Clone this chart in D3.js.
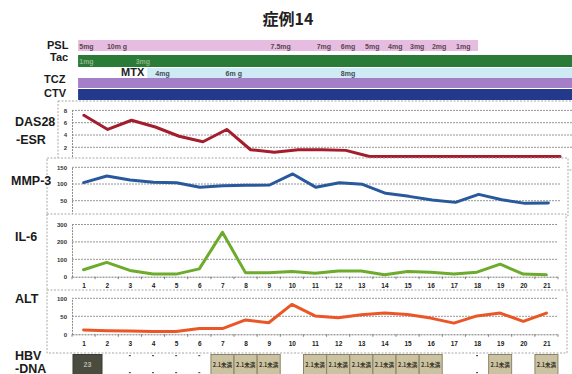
<!DOCTYPE html>
<html>
<head>
<meta charset="utf-8">
<script src="https://cdn.jsdelivr.net/npm/d3@7"></script>
<style>
  html, body { margin: 0; padding: 0; background: #fff; }
  svg { display: block; }
  text { font-family: "Liberation Sans", Arial, sans-serif; }
</style>
</head>
<body>
<svg id="chart" width="572" height="374"></svg>
<script>
// Visits (x categories)
const visits = [1,2,3,4,5,6,7,8,9,10,11,12,13,14,15,16,17,18,19,20,21];

// Lab series
const das28 = [7.2,4.9,6.4,5.3,3.8,2.9,4.9,1.6,1.2,1.6,1.6,1.5,0.5,0.5,0.5,0.5,0.5,0.5,0.5,0.5,0.5];
const mmp3  = [104,124,112,105,104,90,95,96,97,130,90,104,99,72,63,52,45,69,53,42,43];
const il6   = [40,82,36,15,15,45,255,22,22,30,20,33,33,11,30,26,15,26,72,15,11];
const alt   = [12,10,9,8,8,16,16,40,32,83,51,46,54,59,55,45,31,51,59,36,59];

// Y tick labels
const dasTicks = [0,2,4,6,8];
const mmpTicks = [50,100,150];
const il6Ticks = [0,100,200,300];
const altTicks = [0,50,100];

// Treatment timeline (positions in visit units)
const pslDoses  = ["5mg","10m g","7.5mg","7mg","6mg","5mg","4mg","3mg","2mg","1mg"];
const pslStarts = [0.75,1.95,9.05,11.05,12.1,13.15,14.15,15.1,16.05,17.1];
const pslSpan   = [0.7,18.05];
const tacDoses  = ["1mg","3mg"];
const tacStarts = [0.75,3.2];
const tacSpan   = [0.7,22.5];
const mtxDoses  = ["4mg","6m g","8mg"];
const mtxStarts = [4.05,7.1,12.1];
const mtxSpan   = [3.7,22.5];
const tczSpan   = [0.7,22.5];
const ctvSpan   = [0.7,22.5];

// HBV-DNA results per visit ("" = not shown, "-" = small mark)
const hbv = ["23","","-","-","-","-","2.1未満","2.1未満","2.1未満","","2.1未満","2.1未満","2.1未満","2.1未満","2.1未満","2.1未満","","-","2.1未満","","2.1未満"];

const svg = d3.select("#chart");

// Title
svg.append("text").attr("x", 288).attr("y", 25).attr("text-anchor", "middle")
  .style("font-family", "'Noto Sans CJK JP', sans-serif")
  .style("font-size", "16px").style("font-weight", "bold").attr("fill", "#222")
  .text("症例14");

// ---- Treatment bars ----
const xt = d3.scaleLinear().domain([1, 21]).range([85, 546]);

function bar(span, y, h, fill) {
  svg.append("rect")
    .attr("x", xt(span[0])).attr("y", y)
    .attr("width", Math.min(xt(span[1]), 572) - xt(span[0])).attr("height", h)
    .attr("fill", fill);
}
bar(pslSpan, 40, 11, "#e6bde0");
bar(tacSpan, 55, 12, "#2a7a38");
bar(mtxSpan, 68, 10, "#cdeaf5");
bar(tczSpan, 78, 10, "#a47fc8");
bar(ctvSpan, 89, 11, "#23398c");

function doseLabels(doses, starts, y, color, size) {
  svg.append("g").selectAll("text").data(doses).join("text")
    .attr("x", (d, i) => xt(starts[i])).attr("y", y)
    .style("font-size", size + "px").style("font-weight", "bold")
    .attr("fill", color).text(d => d);
}
doseLabels(pslDoses, pslStarts, 48.5, "#5a4550", 7);
doseLabels(tacDoses, tacStarts, 64, "#8fb487", 7);
doseLabels(mtxDoses, mtxStarts, 75.5, "#4a4a55", 7);

svg.append("text").attr("x", 121).attr("y", 75.5)
  .style("font-size", "11px").style("font-weight", "bold").attr("fill", "#222").text("MTX");

// ---- Lab panels ----
function panel(opt) {
  const g = svg.append("g");
  // dashed frame
  g.append("rect").attr("x", opt.box[0]).attr("y", opt.box[1])
    .attr("width", opt.box[2] - opt.box[0]).attr("height", opt.box[3] - opt.box[1])
    .attr("fill", "#fff").attr("stroke", "#a8a8a8").attr("stroke-width", 1)
    .attr("stroke-dasharray", "2,1.5");

  const x = d3.scalePoint().domain(visits).range([opt.left, opt.right]).padding(0.5);
  const xb = d3.scaleBand().domain(visits).range([opt.left, opt.right]);
  const y = d3.scaleLinear().domain(opt.domain).range([opt.y0, opt.y1]);

  // gridlines
  g.append("g").selectAll("line").data(opt.ticks.filter(t => t !== 0)).join("line")
    .attr("x1", opt.left).attr("x2", opt.gridRight)
    .attr("y1", d => y(d)).attr("y2", d => y(d))
    .attr("stroke", "#8a8a8a").attr("stroke-width", 0.9).attr("stroke-dasharray", "2,1");

  // y axis
  const ya = d3.axisLeft(y).tickValues(opt.ticks).tickSize(0).tickPadding(5);
  const yg = g.append("g").attr("transform", `translate(${opt.left},0)`).call(ya);
  yg.select(".domain").attr("stroke", "#8a8a8a").attr("stroke-dasharray", "2,1");
  yg.selectAll("text").style("font-size", "6px").style("font-weight", "bold")
    .style("font-family", "'Liberation Sans', Arial, sans-serif").attr("fill", "#333");

  // x axis
  if (opt.xLabels) {
    const xa = d3.axisBottom(x).tickSize(0).tickPadding(7);
    const xg = g.append("g").attr("transform", `translate(0,${opt.y0})`).call(xa);
    xg.select(".domain").attr("stroke", "#777").attr("stroke-dasharray", "2,1");
    xg.selectAll("text").style("font-size", "6.5px").style("font-weight", "bold")
      .style("font-family", "'Liberation Sans', Arial, sans-serif").attr("fill", "#222");
    g.append("g").selectAll("line").data(visits.concat([null])).join("line")
      .attr("x1", (d, i) => opt.left + i * xb.step()).attr("x2", (d, i) => opt.left + i * xb.step())
      .attr("y1", opt.y0).attr("y2", opt.y0 + 2.5)
      .attr("stroke", "#666").attr("stroke-width", 0.8);
  }

  // series line
  const line = d3.line().x((d, i) => x(visits[i])).y(d => y(d));
  g.append("path").datum(opt.values).attr("d", line)
    .attr("fill", "none").attr("stroke", opt.color).attr("stroke-width", 3)
    .attr("stroke-linejoin", "round").attr("stroke-linecap", "round");
  return g;
}

// DAS28-ESR
panel({ box: [58, 101, 590, 170], left: 72, right: 572, gridRight: 572,
  domain: [0, 8], y0: 159.6, y1: 110.4, ticks: dasTicks, values: das28, color: "#a31d2d" });
// MMP-3
panel({ box: [47, 158, 568, 216], left: 72, right: 560, gridRight: 560,
  domain: [0, 150], y0: 217.4, y1: 167.3, ticks: mmpTicks, values: mmp3, color: "#28599c" });
// IL-6
panel({ box: [47, 214, 566, 291], left: 72, right: 558, gridRight: 558,
  domain: [0, 300], y0: 276.7, y1: 224.5, ticks: il6Ticks, values: il6, color: "#6cab2c", xLabels: true });
// ALT
panel({ box: [47, 290, 567, 353], left: 72, right: 558, gridRight: 558,
  domain: [0, 100], y0: 334.3, y1: 298.3, ticks: altTicks, values: alt, color: "#eb5626", xLabels: true });

// ---- HBV-DNA row ----
const xh = d3.scalePoint().domain(visits).range([72, 558]).padding(0.5);
const hb = svg.append("g");
hbv.forEach((v, i) => {
  const cx = xh(visits[i]);
  if (v === "-") {
    hb.append("rect").attr("x", cx - 1).attr("y", 355).attr("width", 2).attr("height", 1.2).attr("fill", "#555");
    hb.append("rect").attr("x", cx - 1).attr("y", 372).attr("width", 2).attr("height", 1.2).attr("fill", "#555");
  } else if (v !== "") {
    const dark = (i === 0);
    const w = dark ? 29 : 23;
    hb.append("rect").attr("x", dark ? 73 : cx - w / 2).attr("y", 354.5).attr("width", w).attr("height", 21)
      .attr("fill", dark ? "#4b4b40" : "#cbc2a2").attr("stroke", dark ? "#3a3a30" : "#8d8466").attr("stroke-width", 1);
    hb.append("text").attr("x", dark ? 73 + w / 2 : cx).attr("y", 367)
      .attr("text-anchor", "middle")
      .style("font-family", dark ? "'Liberation Sans', Arial, sans-serif" : "'Noto Sans CJK JP', sans-serif")
      .style("font-size", dark ? "7px" : "5.5px").style("font-weight", "bold")
      .attr("fill", dark ? "#b8b8a8" : "#3a3528").text(v);
  }
});

// Row labels (drawn last so they sit above the panel frames)
const rowLabels = [
  ["PSL", 47, 49, 11], ["Tac", 50, 61, 11], ["TCZ", 44, 83, 11], ["CTV", 44, 97, 11],
  ["DAS28", 15, 126, 12.5], ["-ESR", 16, 144, 12.5], ["MMP-3", 11, 185, 12.5],
  ["IL-6", 15, 241, 12.5], ["ALT", 15, 303, 12.5], ["HBV", 15, 360, 12.5], ["-DNA", 15, 372.5, 12.5]
];
svg.append("g").selectAll("text").data(rowLabels).join("text")
  .attr("x", d => d[1]).attr("y", d => d[2])
  .style("font-size", d => d[3] + "px").style("font-weight", "bold")
  .attr("fill", "#1a1a1a").text(d => d[0]);
</script>
</body>
</html>
